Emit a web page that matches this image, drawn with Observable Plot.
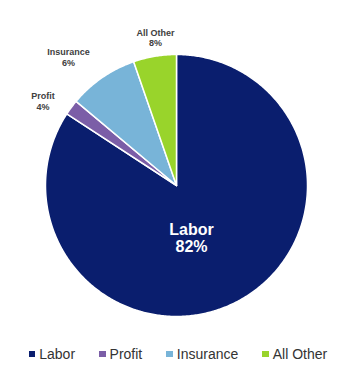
<!DOCTYPE html>
<html>
<head>
<meta charset="utf-8">
<script src="https://cdn.jsdelivr.net/npm/d3@7"></script>
<script src="https://cdn.jsdelivr.net/npm/@observablehq/plot@0.6"></script>
<style>
  html, body { margin: 0; padding: 0; background: #fff; }
  #chart { width: 356px; font-family: "Liberation Sans", Arial, sans-serif; }
  .legend { display: flex; justify-content: center; gap: 24px; height: 34px; align-items: center; margin-top: -3px;
    font-family: "Liberation Sans", Arial, sans-serif; font-size: 14px; color: #333; }
  .legend .item { display: flex; align-items: center; }
  .legend .sw { width: 6.5px; height: 6.5px; margin-right: 4px; display: inline-block; }
</style>
</head>
<body>
<div id="chart"></div>
<script>
// Data (clockwise from 12 o'clock)
const categories = ["Labor", "Profit", "Insurance", "All Other"];
const shares = [84.2, 1.9, 8.6, 5.3];        // slice sizes as drawn
const pctLabels = ["82%", "4%", "6%", "8%"]; // printed labels
const colors = ["#0A1E6E", "#7B5EA7", "#78B4D8", "#99D42B"];

// Layout (label placement in unit-circle coordinates)
const labelPos = [
  {x: 0.115, y: -0.40, fill: "white", size: 16, lh: 1.06},
  {x: -1.02, y: 0.645, fill: "#404040", size: 9, lh: 1.2},
  {x: -0.825, y: 0.98, fill: "#404040", size: 9, lh: 1.2},
  {x: -0.16, y: 1.13, fill: "#404040", size: 9, lh: 1.2}
];

const total = d3.sum(shares);
const points = [];
let acc = 0;
categories.forEach((c, i) => {
  const a0 = acc / total * 2 * Math.PI;
  acc += shares[i];
  const a1 = acc / total * 2 * Math.PI;
  const n = Math.max(4, Math.ceil((a1 - a0) / 0.01));
  points.push({name: c, x: 0, y: 0});
  for (let k = 0; k <= n; k++) {
    const a = a0 + (a1 - a0) * k / n;
    points.push({name: c, x: Math.sin(a), y: Math.cos(a)});
  }
  points.push({name: c, x: 0, y: 0});
});

const labels = categories.map((c, i) => ({
  text: c + "\n" + pctLabels[i], ...labelPos[i]
}));

const plot = Plot.plot({
  width: 356,
  height: 340,
  marginLeft: 45,
  marginRight: 49,
  marginTop: 54,
  marginBottom: 24,
  x: {domain: [-1, 1], axis: null},
  y: {domain: [-1, 1], axis: null},
  color: {domain: categories, range: colors},
  style: {fontFamily: "Liberation Sans, Arial, sans-serif", background: "white"},
  marks: [
    Plot.line(points, {x: "x", y: "y", z: "name", fill: "name", stroke: "white", strokeWidth: 1.5, strokeLinejoin: "round", curve: "linear"}),
    ...labels.map(l => Plot.text([l], {x: "x", y: "y", text: "text", fill: l.fill, fontSize: l.size, fontWeight: "bold", lineHeight: l.lh, textAnchor: "middle"}))
  ]
});

const chart = document.getElementById("chart");
chart.appendChild(plot);

const legend = document.createElement("div");
legend.className = "legend";
categories.forEach((c, i) => {
  const item = document.createElement("span");
  item.className = "item";
  const sw = document.createElement("span");
  sw.className = "sw";
  sw.style.background = colors[i];
  item.appendChild(sw);
  item.appendChild(document.createTextNode(c));
  legend.appendChild(item);
});
chart.appendChild(legend);
</script>
</body>
</html>
